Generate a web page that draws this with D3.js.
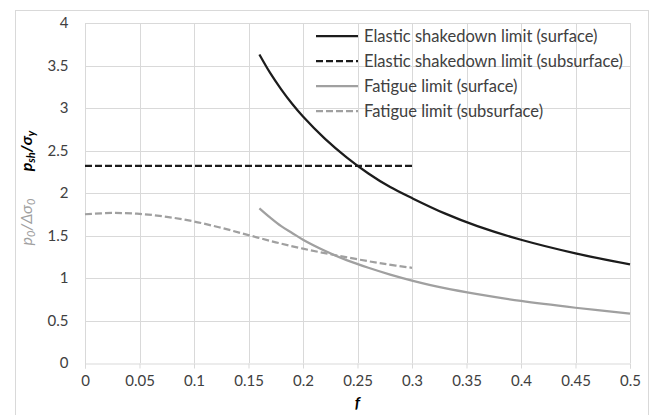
<!DOCTYPE html>
<html>
<head>
<meta charset="utf-8">
<script src="https://cdn.jsdelivr.net/npm/d3@7"></script>
<style>
  body { margin: 0; background: #fff; }
  svg { display: block; font-family: Lato, "Open Sans", sans-serif; }
</style>
</head>
<body>
<div id="chart"></div>
<script>
// values
const X_TICKS = [0, 0.05, 0.1, 0.15, 0.2, 0.25, 0.3, 0.35, 0.4, 0.45, 0.5];
const Y_TICKS = [0, 0.5, 1, 1.5, 2, 2.5, 3, 3.5, 4];

const F_SURFACE = [0.16, 0.17, 0.18, 0.19, 0.2, 0.22, 0.24, 0.26, 0.28, 0.3, 0.33, 0.36, 0.4, 0.45, 0.5];
const SHAKEDOWN_SURFACE = [3.63, 3.41, 3.22, 3.05, 2.9, 2.64, 2.42, 2.23, 2.07, 1.94, 1.76, 1.61, 1.45, 1.29, 1.16];
const FATIGUE_SURFACE = [1.82, 1.71, 1.61, 1.53, 1.45, 1.32, 1.21, 1.12, 1.04, 0.97, 0.88, 0.81, 0.73, 0.65, 0.58];

const F_SHAKEDOWN_SUB = [0, 0.3];
const SHAKEDOWN_SUB = [2.32, 2.32];

const F_FATIGUE_SUB = [0, 0.025, 0.05, 0.075, 0.1, 0.125, 0.15, 0.175, 0.2, 0.225, 0.25, 0.275, 0.3];
const FATIGUE_SUB = [1.75, 1.765, 1.755, 1.72, 1.665, 1.59, 1.505, 1.42, 1.345, 1.28, 1.22, 1.165, 1.12];

const SERIES = [
  { name: "Elastic shakedown limit (surface)", f: F_SURFACE, v: SHAKEDOWN_SURFACE, color: "#1c1c1c", dash: null },
  { name: "Elastic shakedown limit (subsurface)", f: F_SHAKEDOWN_SUB, v: SHAKEDOWN_SUB, color: "#1c1c1c", dash: "7,3" },
  { name: "Fatigue limit (surface)", f: F_SURFACE, v: FATIGUE_SURFACE, color: "#a0a0a0", dash: null },
  { name: "Fatigue limit (subsurface)", f: F_FATIGUE_SUB, v: FATIGUE_SUB, color: "#a0a0a0", dash: "7,3" }
];

const WIDTH = 652;
const HEIGHT = 415;
const GRID = "#d9d9d9";
const TEXT = "#404040";

const svg = d3.select("#chart").append("svg")
  .attr("width", WIDTH)
  .attr("height", HEIGHT);

// outer frame (runs past the bottom of the picture)
svg.append("rect")
  .attr("x", 15.5).attr("y", 10.5)
  .attr("width", 633).attr("height", 420)
  .attr("fill", "none")
  .attr("stroke", GRID);

const x = d3.scaleLinear().domain([0, 0.5]).range([85, 630]);
const y = d3.scaleLinear().domain([0, 4]).range([363, 23]);

// grid
svg.append("g").selectAll("line")
  .data(Y_TICKS.slice(1))
  .join("line")
  .attr("x1", x(0)).attr("x2", x(0.5))
  .attr("y1", d => Math.round(y(d)) + 0.5)
  .attr("y2", d => Math.round(y(d)) + 0.5)
  .attr("stroke", GRID);

svg.append("g").selectAll("line")
  .data(X_TICKS.slice(1))
  .join("line")
  .attr("x1", d => Math.round(x(d)) + 0.5)
  .attr("x2", d => Math.round(x(d)) + 0.5)
  .attr("y1", y(0)).attr("y2", y(4))
  .attr("stroke", GRID);

// axes
const xAxis = svg.append("g")
  .attr("transform", `translate(0,${Math.round(y(0)) + 0.5})`)
  .call(d3.axisBottom(x).tickValues(X_TICKS).tickFormat(d => String(d)).tickSize(5).tickPadding(7));

const yAxis = svg.append("g")
  .attr("transform", `translate(${Math.round(x(0)) + 0.5},0)`)
  .call(d3.axisLeft(y).tickValues(Y_TICKS).tickFormat(d => String(d)).tickSize(0).tickPadding(17));

[xAxis, yAxis].forEach(g => {
  g.select(".domain").attr("stroke", GRID);
  g.selectAll(".tick line").attr("stroke", GRID);
  g.selectAll(".tick text")
    .attr("fill", TEXT)
    .style("font-family", "Lato, sans-serif")
    .style("font-size", "15px");
});
yAxis.select(".domain").attr("d", `M0,${y(4)}V${y(0) + 5}`);

// series
const line = d3.line()
  .x(d => x(d[0]))
  .y(d => y(d[1]))
  .curve(d3.curveCatmullRom);

SERIES.forEach(s => {
  svg.append("path")
    .datum(s.f.map((f, i) => [f, s.v[i]]))
    .attr("d", line)
    .attr("fill", "none")
    .attr("stroke", s.color)
    .attr("stroke-width", 2.25)
    .attr("stroke-dasharray", s.dash);
});

// legend
const legend = svg.append("g")
  .attr("transform", "translate(316,36)");

SERIES.forEach((s, i) => {
  const row = legend.append("g").attr("transform", `translate(0,${i * 25})`);
  row.append("line")
    .attr("x1", 0).attr("x2", 42)
    .attr("stroke", s.color)
    .attr("stroke-width", 2.25)
    .attr("stroke-dasharray", s.dash);
  row.append("text")
    .attr("x", 48).attr("dy", "0.35em")
    .attr("fill", TEXT)
    .style("font-size", "16.5px")
    .text(s.name);
});

// axis titles
svg.append("text")
  .attr("x", x(0.25)).attr("y", 408)
  .attr("text-anchor", "middle")
  .attr("fill", "#000")
  .style("font-size", "16px")
  .style("font-style", "italic")
  .style("font-weight", "bold")
  .text("f");

const titleSh = svg.append("text")
  .attr("transform", "translate(32,151) rotate(-90)")
  .attr("text-anchor", "middle")
  .attr("fill", "#000")
  .style("font-size", "16px")
  .style("font-style", "italic")
  .style("font-weight", "bold");
titleSh.append("tspan").text("p");
titleSh.append("tspan").attr("baseline-shift", "-3").style("font-size", "11px").text("sh");
titleSh.append("tspan").text("/σ");
titleSh.append("tspan").attr("baseline-shift", "-3").style("font-size", "11px").text("y");

const titleFat = svg.append("text")
  .attr("transform", "translate(32,222) rotate(-90)")
  .attr("text-anchor", "middle")
  .attr("fill", "#a0a0a0")
  .style("font-size", "16px")
  .style("font-style", "italic");
titleFat.append("tspan").text("p");
titleFat.append("tspan").attr("baseline-shift", "-3").style("font-size", "11px").text("0");
titleFat.append("tspan").text("/Δσ");
titleFat.append("tspan").attr("baseline-shift", "-3").style("font-size", "11px").text("0");
</script>
</body>
</html>
